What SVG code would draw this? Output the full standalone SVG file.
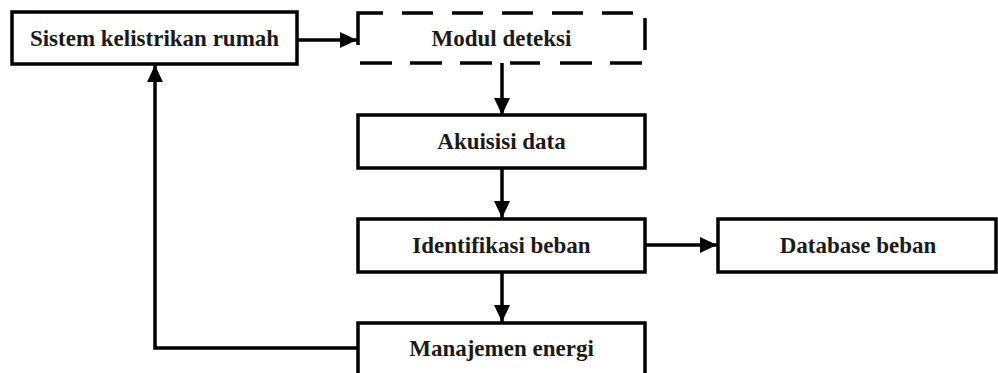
<svg xmlns="http://www.w3.org/2000/svg" width="998" height="373" viewBox="0 0 998 373">
<style>
.box{fill:#fff;stroke:#000;stroke-width:3.5;stroke-linejoin:miter}
.dash{fill:none;stroke:#000;stroke-width:3.5;stroke-linecap:butt}
.lbl{font-family:"Liberation Serif","Times New Roman",serif;font-weight:bold;font-size:23px;fill:#1a1a1a;text-anchor:middle}
.conn{fill:none;stroke:#000;stroke-width:3.5}
</style>
<defs>
<marker id="ah" markerWidth="17" markerHeight="16" refX="17" refY="8" orient="auto" markerUnits="userSpaceOnUse">
<path d="M0,0 L17,8 L0,16 Z" fill="#000"/>
</marker>
</defs>
<rect width="998" height="373" fill="#fff"/>
<g id="connectors">
<path class="conn" d="M297,40 L357,40" marker-end="url(#ah)"/>
<path class="conn" d="M502,63 L502,115" marker-end="url(#ah)"/>
<path class="conn" d="M502,168 L502,218" marker-end="url(#ah)"/>
<path class="conn" d="M502,272 L502,322" marker-end="url(#ah)"/>
<path class="conn" d="M645,245 L717,245" marker-end="url(#ah)"/>
<path class="conn" d="M358,348 L155,348 L155,65" marker-end="url(#ah)"/>
</g>
<g id="sistem">
<rect class="box" x="12" y="12" width="285" height="52"/>
<text class="lbl" x="154.5" y="46">Sistem kelistrikan rumah</text>
</g>
<g id="modul">
<path class="dash" d="M358,45 L358,13 L383,13 M402,13 L433,13 M452,13 L483,13 M502,13 L533,13 M552,13 L583,13 M602,13 L633,13 M645,18 L645,50 M642,63 L610,63 M592,63 L560,63 M540,63 L510,63 M492,63 L460,63 M442,63 L410,63 M392,63 L360,63"/>
<text class="lbl" x="501.5" y="46">Modul deteksi</text>
</g>
<g id="akuisisi">
<rect class="box" x="358" y="115" width="287" height="53"/>
<text class="lbl" x="501.5" y="149">Akuisisi data</text>
</g>
<g id="identifikasi">
<rect class="box" x="358" y="219" width="287" height="53"/>
<text class="lbl" x="501.5" y="253">Identifikasi beban</text>
</g>
<g id="database">
<rect class="box" x="718" y="219" width="278" height="53"/>
<text class="lbl" x="858" y="253">Database beban</text>
</g>
<g id="manajemen">
<rect class="box" x="358" y="323" width="287" height="60"/>
<text class="lbl" x="501.5" y="356">Manajemen energi</text>
</g>
</svg>
